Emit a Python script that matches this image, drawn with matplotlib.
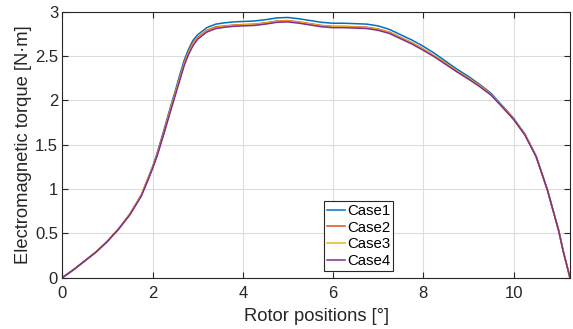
import matplotlib
matplotlib.use("Agg")
import matplotlib.pyplot as plt

# --- data ------------------------------------------------------------------
rotor_pos = [0, 0.25, 0.5, 0.75, 1.0, 1.25, 1.5, 1.75, 1.9, 2.0, 2.1, 2.25,
             2.4, 2.5, 2.6, 2.7, 2.8, 2.9, 3.0, 3.2, 3.4, 3.6, 3.8, 4.0,
             4.25, 4.5, 4.75, 5.0, 5.25, 5.5, 5.75, 6.0, 6.25, 6.5, 6.75, 7.0,
             7.25, 7.5, 7.75, 8.0, 8.25, 8.5, 8.75, 9.0, 9.25, 9.5, 9.75, 10.0,
             10.25, 10.5, 10.75, 11.0, 11.1, 11.25]

case1 = [0, 0.09, 0.19, 0.29, 0.41, 0.55, 0.72, 0.93, 1.12, 1.25, 1.40, 1.66,
         1.93, 2.10, 2.28, 2.45, 2.58, 2.68, 2.74, 2.82, 2.86, 2.875, 2.885, 2.89,
         2.895, 2.91, 2.93, 2.935, 2.92, 2.90, 2.88, 2.87, 2.87, 2.865, 2.86, 2.84,
         2.80, 2.74, 2.68, 2.61, 2.53, 2.44, 2.35, 2.27, 2.18, 2.08, 1.94, 1.80,
         1.62, 1.37, 0.99, 0.53, 0.30, 0]

case2 = [0, 0.09, 0.19, 0.29, 0.41, 0.55, 0.72, 0.93, 1.12, 1.24, 1.39, 1.64,
         1.91, 2.08, 2.25, 2.42, 2.55, 2.65, 2.71, 2.79, 2.83, 2.84, 2.85, 2.855,
         2.86, 2.875, 2.895, 2.90, 2.885, 2.865, 2.845, 2.835, 2.835, 2.83, 2.825, 2.805,
         2.77, 2.71, 2.65, 2.58, 2.50, 2.42, 2.33, 2.25, 2.17, 2.07, 1.93, 1.79,
         1.62, 1.37, 0.99, 0.53, 0.30, 0]

case3 = [0, 0.09, 0.19, 0.29, 0.41, 0.55, 0.72, 0.93, 1.11, 1.24, 1.38, 1.63,
         1.90, 2.07, 2.24, 2.41, 2.54, 2.64, 2.70, 2.78, 2.82, 2.835, 2.845, 2.85,
         2.855, 2.87, 2.89, 2.895, 2.88, 2.86, 2.84, 2.83, 2.83, 2.825, 2.82, 2.80,
         2.765, 2.705, 2.645, 2.575, 2.50, 2.415, 2.33, 2.25, 2.165, 2.065, 1.93, 1.79,
         1.615, 1.37, 0.99, 0.53, 0.30, 0]

case4 = [0, 0.09, 0.19, 0.29, 0.41, 0.55, 0.71, 0.92, 1.10, 1.23, 1.37, 1.62,
         1.88, 2.05, 2.22, 2.39, 2.52, 2.62, 2.69, 2.77, 2.81, 2.825, 2.835, 2.84,
         2.845, 2.86, 2.88, 2.885, 2.87, 2.85, 2.83, 2.82, 2.82, 2.815, 2.81, 2.79,
         2.755, 2.695, 2.635, 2.565, 2.49, 2.405, 2.32, 2.24, 2.155, 2.06, 1.925, 1.785,
         1.61, 1.365, 0.99, 0.53, 0.30, 0]

labels = ["Case1", "Case2", "Case3", "Case4"]
colors = ["#0072BD", "#D95319", "#EDB120", "#7E2F8E"]  # matlab defaults

x_ticks = [0, 2, 4, 6, 8, 10]
y_ticks = [0, 0.5, 1, 1.5, 2, 2.5, 3]
y_ticklabels = ["0", "0.5", "1", "1.5", "2", "2.5", "3"]
# ---------------------------------------------------------------------------

plt.rcParams["font.family"] = ["Liberation Sans", "DejaVu Sans"]

fig = plt.figure(figsize=(5.73, 3.29), dpi=100)
ax = fig.add_axes([0.1087, 0.156, 0.886, 0.8084])

for ys, lab, c in zip([case1, case2, case3, case4], labels, colors):
    ax.plot(rotor_pos, ys, color=c, lw=1.1, label=lab)

ax.set_xlim(0, 11.25)
ax.set_ylim(0, 3)
ax.set_xticks(x_ticks)
ax.set_yticks(y_ticks)
ax.set_yticklabels(y_ticklabels)

ax.grid(True, color="#dcdcdc", lw=0.8)
ax.set_axisbelow(True)
ax.tick_params(direction="in", top=True, right=True, length=4, width=0.8,
               labelsize=12, colors="#262626")
ax.tick_params(axis="x", pad=6)
ax.tick_params(axis="y", pad=3)
for sp in ax.spines.values():
    sp.set_color("#262626")
    sp.set_linewidth(0.8)

ax.set_xlabel("Rotor positions [°]", fontsize=13.2, color="#262626", labelpad=5)
ax.set_ylabel("Electromagnetic torque [N·m]", fontsize=13.2, color="#262626", labelpad=2)

leg = ax.legend(loc="lower center", bbox_to_anchor=(0.584, 0.025), fontsize=10.8,
                fancybox=False, framealpha=1, edgecolor="#262626",
                handlelength=1.2, handletextpad=0.1, labelspacing=0.18,
                borderpad=0.2, borderaxespad=0)
leg.get_frame().set_linewidth(0.8)

fig.savefig("out.png", dpi=100)
